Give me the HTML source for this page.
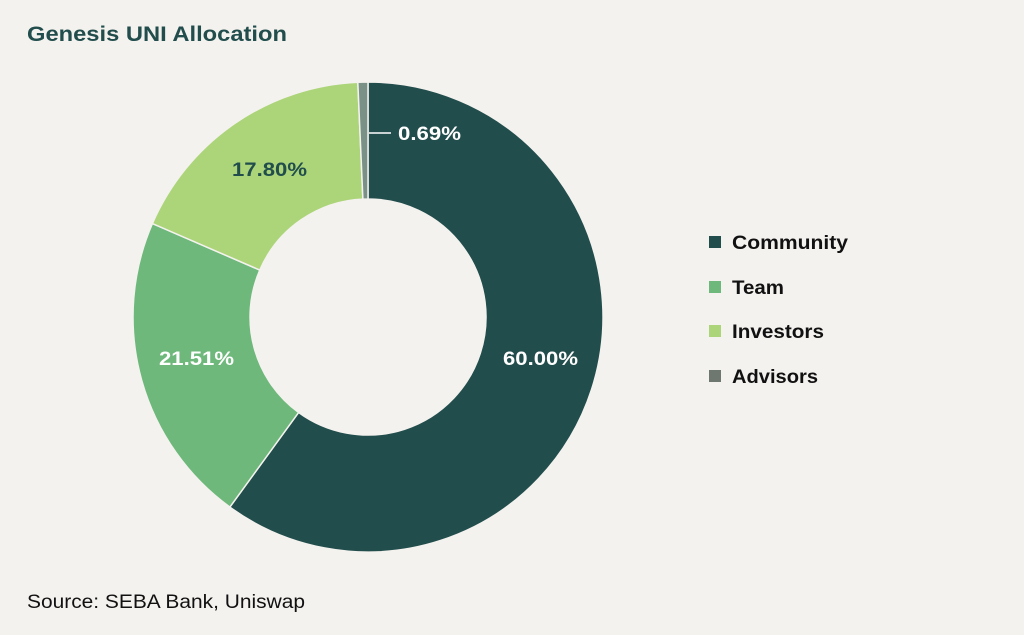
<!DOCTYPE html>
<html><head><meta charset="utf-8"><style>
html,body{margin:0;padding:0;background:#f4f2ee;}
body{width:1024px;height:635px;position:relative;overflow:hidden;font-family:"Liberation Sans",sans-serif;}
</style></head><body>
<svg width="1024" height="635" viewBox="0 0 1024 635" xmlns="http://www.w3.org/2000/svg" style="position:absolute;left:0;top:0">
<rect width="1024" height="635" fill="#f4f2ee"/>
<text x="27" y="41" font-size="21" font-weight="bold" fill="#214d4c" font-family="Liberation Sans, sans-serif" textLength="260" lengthAdjust="spacingAndGlyphs">Genesis UNI Allocation</text>
<g stroke="#f4f2ee" stroke-width="1.5">
<path d="M368,82 A235,235 0 1 1 229.87,507.12 L298.64,412.46 A118,118 0 1 0 368,199 Z" fill="#214d4c"/>
<path d="M229.87,507.12 A235,235 0 0 1 152.39,223.54 L259.78,270.07 A118,118 0 0 0 298.64,412.46 Z" fill="#6db87a"/>
<path d="M152.39,223.54 A235,235 0 0 1 357.81,82.22 L362.89,199.11 A118,118 0 0 0 259.78,270.07 Z" fill="#acd57a"/>
<path d="M357.81,82.22 A235,235 0 0 1 368,82 L368,199 A118,118 0 0 0 362.89,199.11 Z" fill="#7a9188"/>
</g>
<line x1="369" y1="133" x2="391" y2="133" stroke="#ffffff" stroke-width="1.5"/>
<g font-family="Liberation Sans, sans-serif" font-weight="bold" font-size="19" lengthAdjust="spacingAndGlyphs">
<text x="398" y="140" fill="#ffffff" textLength="63" lengthAdjust="spacingAndGlyphs">0.69%</text>
<text x="232" y="176" fill="#214d4c" textLength="75" lengthAdjust="spacingAndGlyphs">17.80%</text>
<text x="159" y="365" fill="#ffffff" textLength="75" lengthAdjust="spacingAndGlyphs">21.51%</text>
<text x="503" y="365" fill="#ffffff" textLength="75" lengthAdjust="spacingAndGlyphs">60.00%</text>
</g>
<rect x="709" y="236" width="12" height="12" fill="#214d4c"/>
<rect x="709" y="281" width="12" height="12" fill="#6db87a"/>
<rect x="709" y="325" width="12" height="12" fill="#acd57a"/>
<rect x="709" y="370" width="12" height="12" fill="#6f7771"/>
<g font-family="Liberation Sans, sans-serif" font-weight="bold" font-size="19" fill="#111">
<text x="732" y="249" textLength="116" lengthAdjust="spacingAndGlyphs">Community</text>
<text x="732" y="294" textLength="52" lengthAdjust="spacingAndGlyphs">Team</text>
<text x="732" y="338" textLength="92" lengthAdjust="spacingAndGlyphs">Investors</text>
<text x="732" y="383" textLength="86" lengthAdjust="spacingAndGlyphs">Advisors</text>
</g>
<text x="27" y="608" font-size="19" fill="#111" font-family="Liberation Sans, sans-serif" textLength="278" lengthAdjust="spacingAndGlyphs">Source: SEBA Bank, Uniswap</text>
</svg>
</body></html>
